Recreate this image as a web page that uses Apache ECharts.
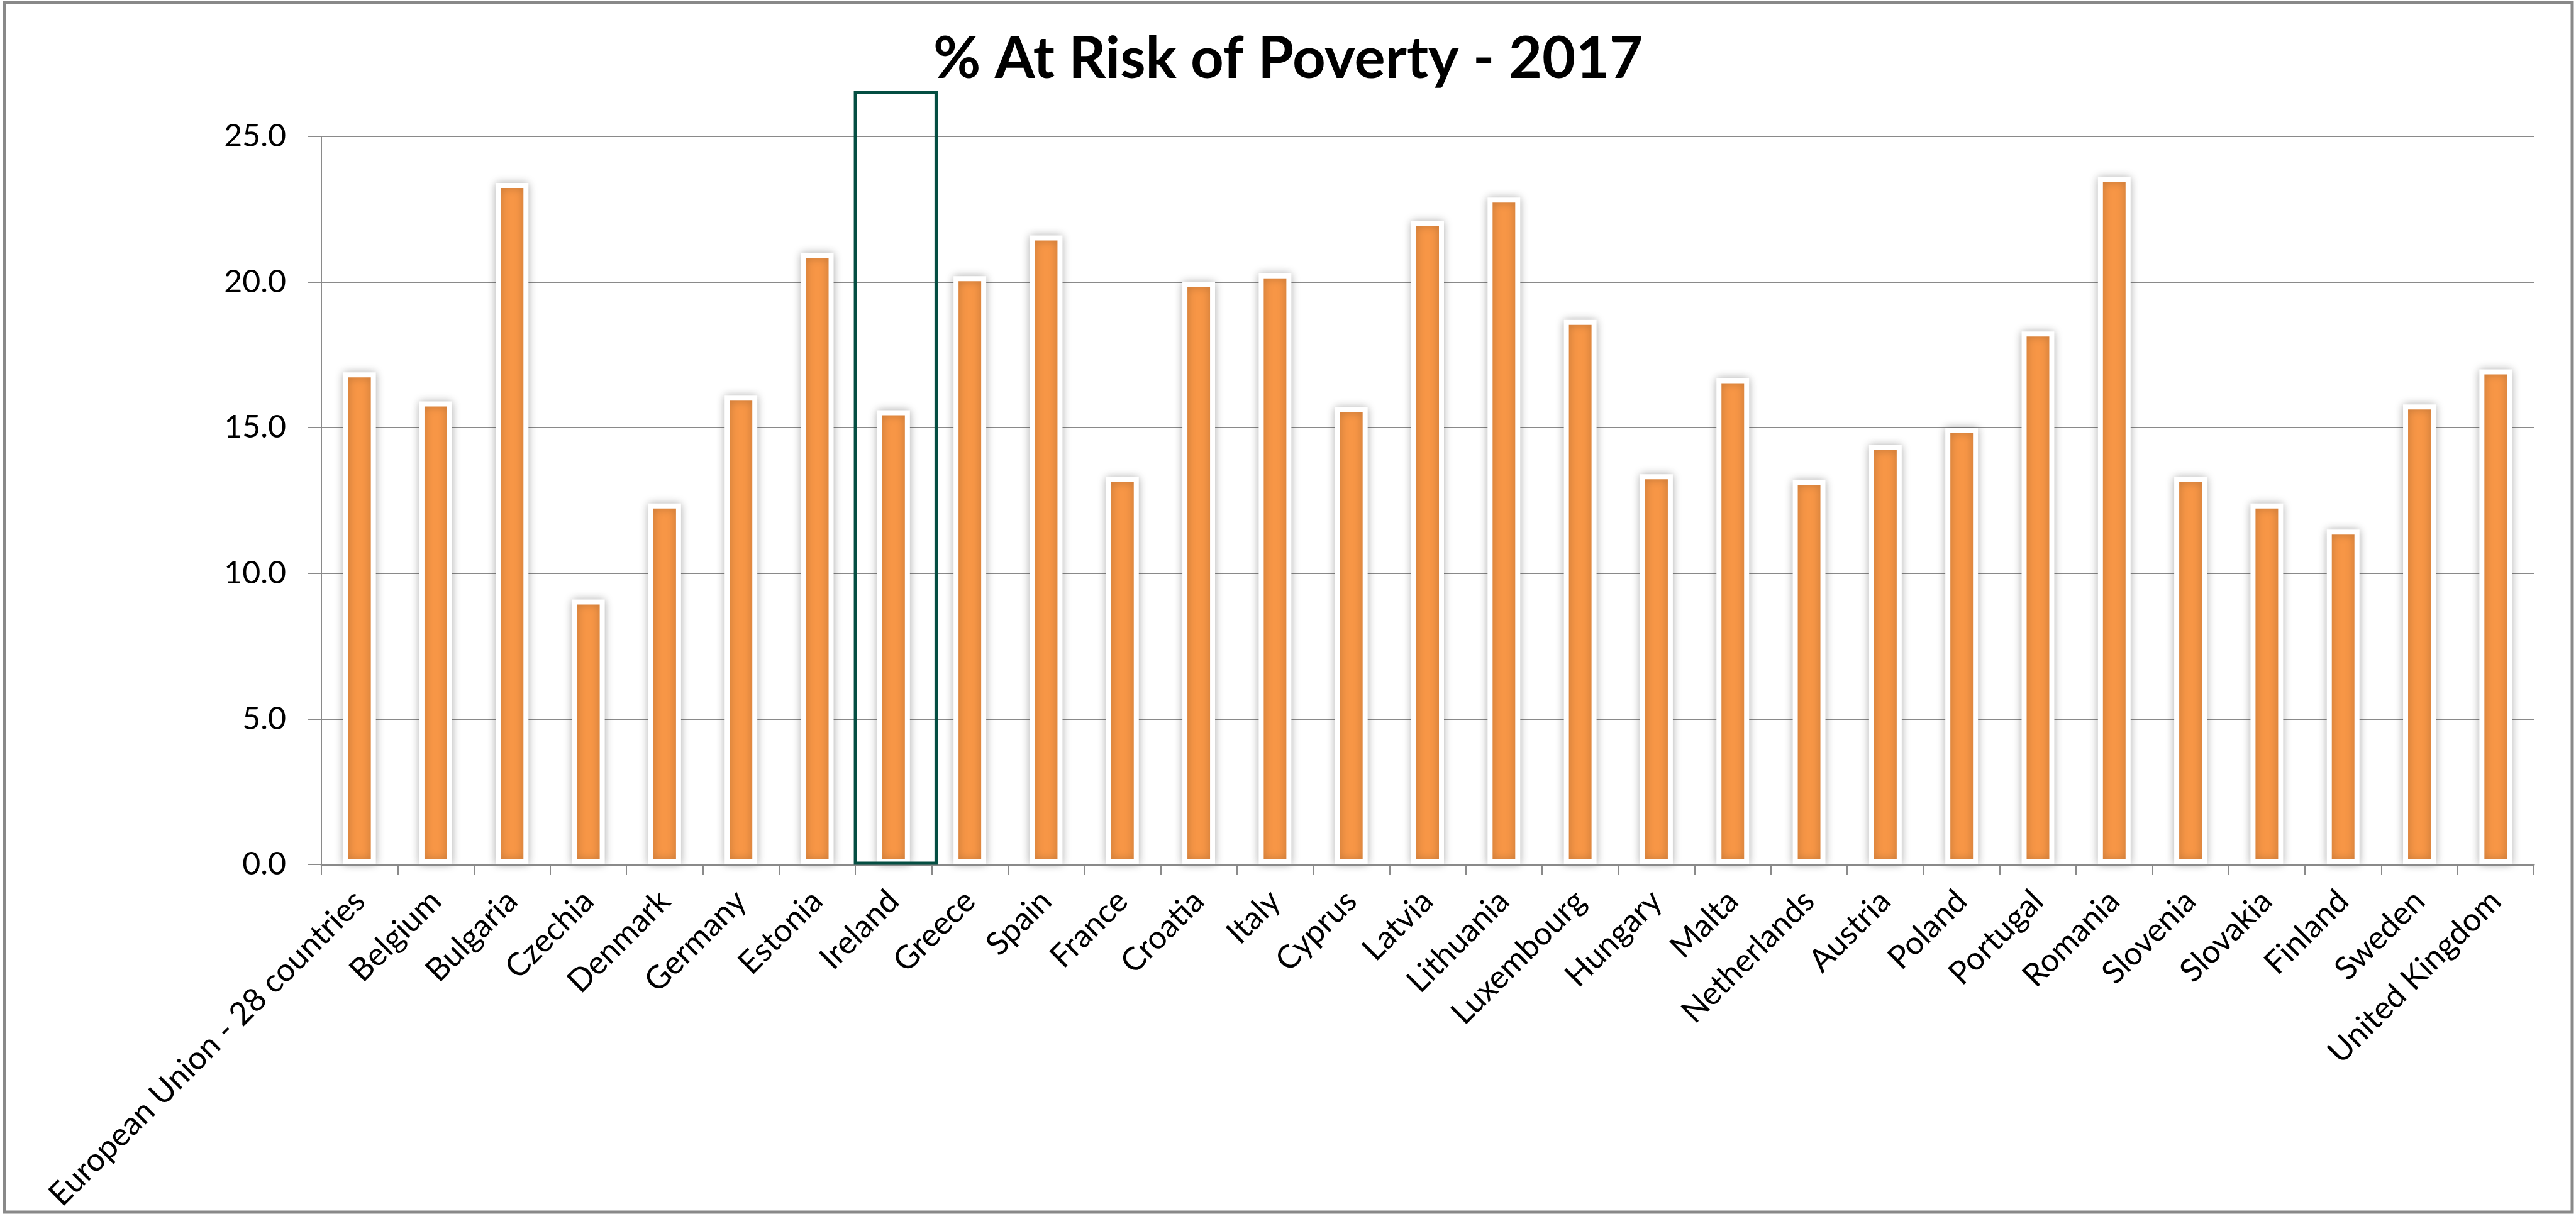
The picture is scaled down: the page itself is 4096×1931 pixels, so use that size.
<!DOCTYPE html>
<html>
<head>
<meta charset="utf-8">
<script src="https://cdn.jsdelivr.net/npm/echarts@6/dist/echarts.min.js"></script>
<style>
  html, body { margin: 0; padding: 0; background: #ffffff; }
  #chart { width: 4096px; height: 1931px; }
</style>
</head>
<body>
<div id="chart"></div>
<script>
// ---- Data ----
const titleText = '% At Risk of Poverty - 2017';
const categories = [
  'European Union - 28 countries', 'Belgium', 'Bulgaria', 'Czechia', 'Denmark',
  'Germany', 'Estonia', 'Ireland', 'Greece', 'Spain', 'France', 'Croatia',
  'Italy', 'Cyprus', 'Latvia', 'Lithuania', 'Luxembourg', 'Hungary', 'Malta',
  'Netherlands', 'Austria', 'Poland', 'Portugal', 'Romania', 'Slovenia',
  'Slovakia', 'Finland', 'Sweden', 'United Kingdom'
];
const values = [
  16.9, 15.9, 23.4, 9.1, 12.4,
  16.1, 21.0, 15.6, 20.2, 21.6, 13.3, 20.0,
  20.3, 15.7, 22.1, 22.9, 18.7, 13.4, 16.7,
  13.2, 14.4, 15.0, 18.3, 23.6, 13.3,
  12.4, 11.5, 15.8, 17.0
];
const yTicks = [0, 5, 10, 15, 20, 25];
// highlighted category box (category, top value of the box)
const highlightBox = [['Ireland', 26.5]];

const chart = echarts.init(document.getElementById('chart'), null, { renderer: 'canvas' });
const FONT = 'Lato';
const GRID_COLOR = '#8a8a8a';

chart.setOption({
  backgroundColor: '#ffffff',
  animation: false,
  title: {
    text: titleText,
    left: 'center',
    top: 43,
    textStyle: { fontFamily: FONT, fontWeight: 'bold', fontSize: 92, color: '#000000' }
  },
  graphic: [{
    type: 'rect',
    shape: { x: 7, y: 3.5, width: 4083, height: 1924.5 },
    style: { fill: null, stroke: '#898989', lineWidth: 5 },
    silent: true,
    z: 100
  }],
  grid: {
    left: 511, right: 67, top: 217, bottom: 556,
    containLabel: false,
    outerBoundsMode: 'none'
  },
  xAxis: {
    type: 'category',
    data: categories,
    z: 5,
    axisLine: { show: true, lineStyle: { color: GRID_COLOR, width: 3 } },
    axisTick: { show: true, length: 17, lineStyle: { color: GRID_COLOR, width: 2 } },
    axisLabel: {
      interval: 0,
      rotate: 45,
      margin: 50,
      fontFamily: FONT,
      fontSize: 51,
      color: '#000000'
    },
    splitLine: { show: false }
  },
  yAxis: {
    type: 'value',
    min: yTicks[0],
    max: yTicks[yTicks.length - 1],
    interval: 5,
    axisLine: { show: true, lineStyle: { color: GRID_COLOR, width: 2 } },
    axisTick: { show: true, inside: false, length: 21, lineStyle: { color: GRID_COLOR, width: 2 } },
    axisLabel: {
      margin: 56,
      fontFamily: FONT,
      fontSize: 50,
      color: '#000000',
      formatter: v => v.toFixed(1)
    },
    splitLine: { show: true, lineStyle: { color: GRID_COLOR, width: 2 } }
  },
  series: [
    {
      type: 'bar',
      data: values,
      barWidth: 52,
      itemStyle: {
        color: '#F79646',
        borderColor: '#ffffff',
        borderWidth: 8,
        shadowBlur: 14,
        shadowColor: 'rgba(0,0,0,0.25)',
        shadowOffsetX: 0,
        shadowOffsetY: 0
      },
      z: 2
    },
    {
      type: 'custom',
      data: highlightBox,
      z: 10,
      silent: true,
      renderItem: function (params, api) {
        const top = api.coord([api.value(0), api.value(1)]);
        const base = api.coord([api.value(0), 0]);
        const bw = api.size([1, 0])[0];
        return {
          type: 'rect',
          shape: {
            x: top[0] - bw / 2,
            y: top[1],
            width: bw + 7,
            height: base[1] - top[1] - 2
          },
          style: { fill: null, stroke: '#044E42', lineWidth: 5.2 }
        };
      }
    }
  ]
});
</script>
</body>
</html>
